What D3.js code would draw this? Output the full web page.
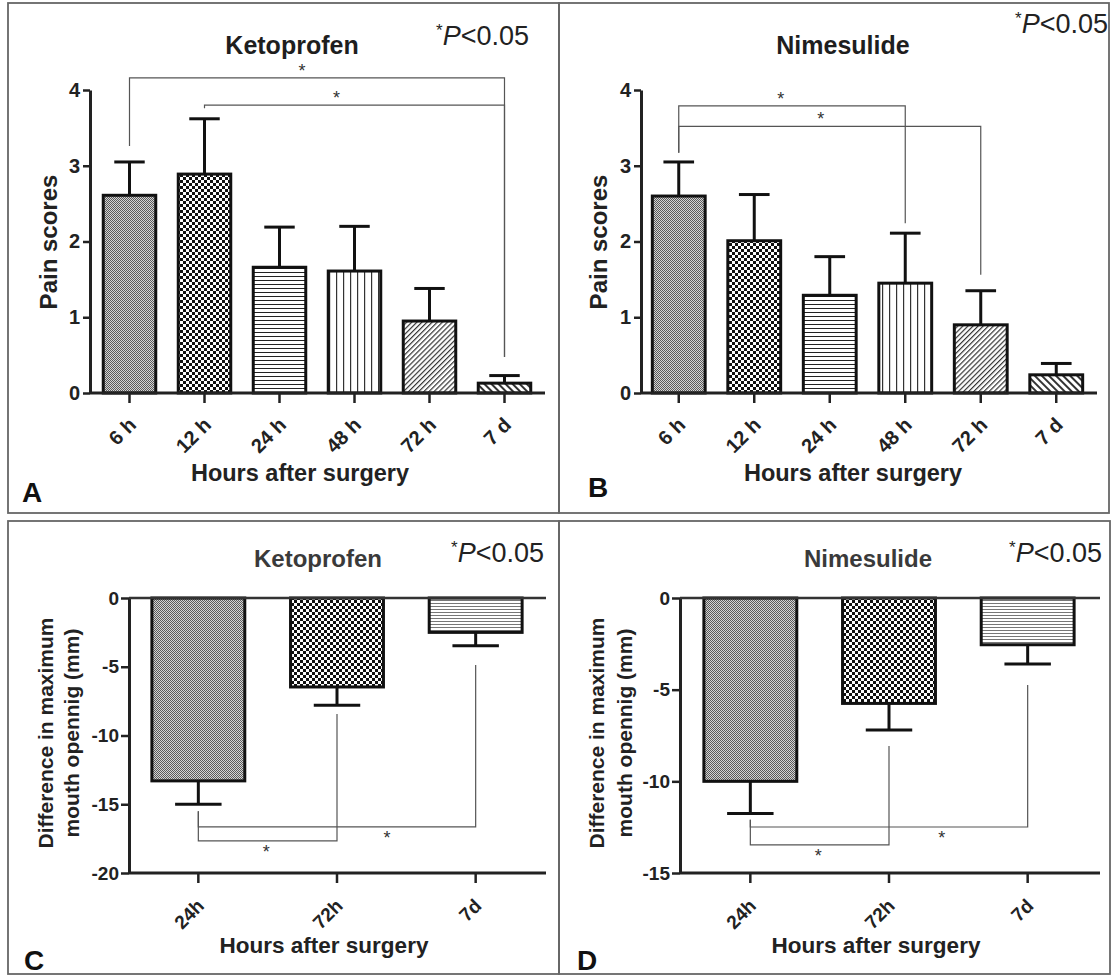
<!DOCTYPE html>
<html><head><meta charset="utf-8">
<script src="https://cdn.jsdelivr.net/npm/d3@7"></script>
<style>
html,body{margin:0;padding:0;background:#fff;}
svg{display:block;font-family:"Liberation Sans",Arial,Helvetica,sans-serif;}
</style></head><body>
<svg id="chart" width="1114" height="975"></svg>
<script>
// ---------------- data ----------------
const painCategories = ["6 h", "12 h", "24 h", "48 h", "72 h", "7 d"];
const painTicks = [0, 1, 2, 3, 4];
const ketoprofenPainMean = [2.61, 2.89, 1.66, 1.61, 0.95, 0.13];
const ketoprofenPainSD   = [0.44, 0.73, 0.53, 0.59, 0.43, 0.10];
const nimesulidePainMean = [2.60, 2.01, 1.29, 1.45, 0.90, 0.24];
const nimesulidePainSD   = [0.45, 0.61, 0.51, 0.66, 0.45, 0.15];

const mouthCategories = ["24h", "72h", "7d"];
const ketoprofenMouthTicks = [0, -5, -10, -15, -20];
const nimesulideMouthTicks = [0, -5, -10, -15];
const ketoprofenMouthMean = [-13.3, -6.47, -2.50];
const ketoprofenMouthSD   = [1.70, 1.33, 0.97];
const nimesulideMouthMean = [-10.0, -5.75, -2.55];
const nimesulideMouthSD   = [1.75, 1.45, 1.05];

// significance brackets: [from, to, bracket level, left leg end, right leg end, star position along bracket]
const ketoprofenPainBrackets = [
  ["6 h", "7 d", 4.16, 3.26, 0.475, 0.46],
  ["12 h", "7 d", 3.80, 3.76, 0.475, 0.44]
];
const nimesulidePainBrackets = [
  ["6 h", "48 h", 3.79, 3.17, 2.24, 0.45],
  ["6 h", "72 h", 3.52, 3.17, 1.56, 0.47]
];
const ketoprofenMouthBrackets = [
  ["24h", "72h", -17.67, -15.5, -8.44, 0.49],
  ["24h", "7d", -16.65, -15.5, -4.87, 0.68]
];
const nimesulideMouthBrackets = [
  ["24h", "72h", -13.47, -12.1, -8.07, 0.49],
  ["24h", "7d", -12.49, -12.1, -4.75, 0.69]
];

const painPatterns = ["fine", "coarse", "hlines", "vlines", "diag", "diag2"];
const mouthPatterns = ["fine", "coarse", "hlines2"];

// ---------------- patterns ----------------
const svg = d3.select("#chart");
svg.append("rect").attr("width", 1114).attr("height", 975).attr("fill", "#fff");
const defs = svg.append("defs");
function pattern(id, w, h, bg, draw, transform) {
  const p = defs.append("pattern").attr("id", id).attr("patternUnits", "userSpaceOnUse")
    .attr("width", w).attr("height", h);
  if (transform) p.attr("patternTransform", transform);
  p.append("rect").attr("width", w).attr("height", h).attr("fill", bg);
  draw(p);
}
pattern("fine", 2, 2, "#d4d4d4", p => {
  p.append("rect").attr("x", 0).attr("y", 0).attr("width", 1).attr("height", 1).attr("fill", "#5a5a5a");
  p.append("rect").attr("x", 1).attr("y", 1).attr("width", 1).attr("height", 1).attr("fill", "#5a5a5a");
});
pattern("coarse", 6, 6, "#fff", p => {
  p.append("rect").attr("x", 0).attr("y", 0).attr("width", 3).attr("height", 3).attr("fill", "#111");
  p.append("rect").attr("x", 3).attr("y", 3).attr("width", 3).attr("height", 3).attr("fill", "#111");
});
pattern("hlines", 8, 4, "#fff", p => {
  p.append("rect").attr("x", 0).attr("y", 0).attr("width", 8).attr("height", 1).attr("fill", "#222");
});
pattern("hlines2", 8, 3, "#fff", p => {
  p.append("rect").attr("x", 0).attr("y", 0).attr("width", 8).attr("height", 1).attr("fill", "#777");
});
pattern("vlines", 7, 8, "#fff", p => {
  p.append("rect").attr("x", 0).attr("y", 0).attr("width", 1.2).attr("height", 8).attr("fill", "#333");
});
pattern("diag", 3.6, 8, "#fff", p => {
  p.append("rect").attr("x", 0).attr("y", 0).attr("width", 1.2).attr("height", 8).attr("fill", "#333");
}, "rotate(45)");
pattern("diag2", 5, 8, "#fff", p => {
  p.append("rect").attr("x", 0).attr("y", 0).attr("width", 2).attr("height", 8).attr("fill", "#333");
}, "rotate(-45)");

// ---------------- panel drawing ----------------
function drawPanel(o) {
  const g = svg.append("g");
  g.append("rect").attr("x", o.box[0]).attr("y", o.box[1]).attr("width", o.box[2]).attr("height", o.box[3])
    .attr("fill", "none").attr("stroke", "#666").attr("stroke-width", 1.8);

  const x = d3.scaleBand().domain(o.cats).range(o.xRange).paddingInner(o.pad).paddingOuter(o.pad / 2);
  const y = d3.scaleLinear().domain(o.yDomain).range(o.yRange);
  const cx = c => x(c) + x.bandwidth() / 2;
  const rows = d3.zip(o.cats, o.means, o.sds, o.patterns);

  // significance brackets
  o.brackets.forEach(b => {
    const x1 = cx(b[0]), x2 = cx(b[1]);
    const p = d3.path();
    p.moveTo(x1, y(b[3])); p.lineTo(x1, y(b[2])); p.lineTo(x2, y(b[2])); p.lineTo(x2, y(b[4]));
    g.append("path").attr("d", p.toString()).attr("fill", "none").attr("stroke", "#555").attr("stroke-width", 1.2);
    g.append("text").attr("x", x1 + (x2 - x1) * b[5]).attr("y", y(b[2]) + o.starDy)
      .attr("text-anchor", "middle").attr("font-size", 18).attr("fill", "#333").text("*");
  });

  // bars
  g.selectAll("rect.bar").data(rows).join("rect").attr("class", "bar")
    .attr("x", d => x(d[0]))
    .attr("width", x.bandwidth())
    .attr("y", d => Math.min(y(0), y(d[1])))
    .attr("height", d => Math.abs(y(d[1]) - y(0)))
    .attr("fill", d => `url(#${d[3]})`)
    .attr("stroke", "#111").attr("stroke-width", 3);

  // error bars (one-sided, away from zero)
  const capW = x.bandwidth() * o.capFrac;
  rows.forEach(d => {
    const sign = d[1] >= 0 ? 1 : -1;
    const y1 = y(d[1]), y2 = y(d[1] + sign * d[2]);
    g.append("line").attr("x1", cx(d[0])).attr("x2", cx(d[0])).attr("y1", y1).attr("y2", y2)
      .attr("stroke", "#111").attr("stroke-width", 3);
    g.append("line").attr("x1", cx(d[0]) - capW / 2).attr("x2", cx(d[0]) + capW / 2).attr("y1", y2).attr("y2", y2)
      .attr("stroke", "#111").attr("stroke-width", 3);
  });

  // y axis
  const ya = g.append("g").attr("transform", `translate(${o.axisX},0)`)
    .call(d3.axisLeft(y).tickValues(o.ticks).tickSize(o.yTick).tickPadding(o.yPad).tickSizeOuter(0).tickFormat(d => String(d)));
  ya.select(".domain").attr("stroke", "#222").attr("stroke-width", 3);
  ya.selectAll(".tick line").attr("stroke", "#222").attr("stroke-width", 2.5);
  ya.selectAll(".tick text").attr("font-size", o.tickFont).attr("font-weight", "bold").attr("fill", "#222")
    .attr("font-family", '"Liberation Sans",Arial,sans-serif');

  // zero line (for negative panels) and category axis
  const axisY = y(o.yDomain[0] < 0 ? o.yDomain[0] : 0);
  if (o.yDomain[0] < 0) {
    g.append("line").attr("x1", o.axisX).attr("x2", o.xEnd).attr("y1", y(0)).attr("y2", y(0))
      .attr("stroke", "#333").attr("stroke-width", 2.5);
  }
  g.append("line").attr("x1", o.axisX).attr("x2", o.xEnd).attr("y1", axisY).attr("y2", axisY)
    .attr("stroke", "#222").attr("stroke-width", 3);
  const xa = g.append("g").attr("transform", `translate(0,${axisY})`)
    .call(d3.axisBottom(x).tickSize(o.xTick).tickSizeOuter(0));
  xa.select(".domain").remove();
  xa.selectAll(".tick line").attr("stroke", "#222").attr("stroke-width", 2.5);
  xa.selectAll(".tick text").attr("font-size", o.tickFont).attr("font-weight", "bold").attr("fill", "#222")
    .attr("font-family", '"Liberation Sans",Arial,sans-serif')
    .attr("x", null).attr("y", null).attr("dy", null)
    .attr("text-anchor", "end")
    .attr("transform", `translate(${o.labelDx},${o.labelDy}) rotate(-45)`);

  // titles
  g.append("text").attr("x", o.titleX).attr("y", o.titleY).attr("text-anchor", "middle")
    .attr("font-size", o.titleFont).attr("font-weight", "bold").attr("fill", o.titleColor).text(o.title);
  const pt = g.append("text").attr("x", o.pX).attr("y", o.pY).attr("text-anchor", o.pAnchor)
    .attr("font-size", 27).attr("fill", "#222");
  pt.append("tspan").attr("font-size", 17).attr("dy", -9).text("*");
  pt.append("tspan").attr("font-style", "italic").attr("dy", 9).text("P");
  pt.append("tspan").text("<0.05");

  // axis titles
  o.yTitle.forEach((t, i) => {
    g.append("text").attr("transform", `translate(${o.yTitleX[i]},${o.yTitleY}) rotate(-90)`)
      .attr("text-anchor", "middle").attr("font-size", o.yTitleFont).attr("font-weight", "bold")
      .attr("fill", "#222").text(t);
  });
  g.append("text").attr("x", o.xTitleX).attr("y", o.xTitleY).attr("text-anchor", "middle")
    .attr("font-size", o.xTitleFont).attr("font-weight", "bold").attr("fill", "#222").text("Hours after surgery");
  g.append("text").attr("x", o.letterX).attr("y", o.letterY).attr("font-size", 28).attr("font-weight", "bold")
    .attr("fill", "#111").text(o.letter);
}

const painCommon = {
  cats: painCategories, ticks: painTicks, yDomain: [0, 4], yRange: [393, 90], pad: 0.3, capFrac: 0.58,
  yTick: 7, yPad: 3, xTick: 10, tickFont: 20, labelDx: 8, labelDy: 33, starDy: -1,
  titleFont: 25, titleColor: "#1e1e1e", titleY: 54, yTitle: ["Pain scores"], yTitleFont: 24,
  xTitleFont: 23.5, xTitleY: 481
};
const mouthCommon = {
  cats: mouthCategories, yRange: [873, 598], pad: 0.33, capFrac: 0.5,
  yTick: 8, yPad: 2, xTick: 10, tickFont: 19, labelDx: 7, labelDy: 34, starDy: 17,
  titleFont: 24, titleColor: "#3a3a3a", titleY: 567, yTitle: ["Difference in maximum", "mouth opennig (mm)"],
  yTitleFont: 21, yTitleY: 733, xTitleFont: 22.5, xTitleY: 953
};

drawPanel(Object.assign({}, painCommon, {
  box: [8, 3, 551, 510], means: ketoprofenPainMean, sds: ketoprofenPainSD, patterns: painPatterns,
  brackets: ketoprofenPainBrackets, axisX: 90, xRange: [92, 542], xEnd: 545,
  title: "Ketoprofen", titleX: 292, pX: 436, pY: 45, pAnchor: "start",
  yTitleX: [57], yTitleY: 242, xTitleX: 300, letter: "A", letterX: 22, letterY: 502
}));
drawPanel(Object.assign({}, painCommon, {
  box: [559, 3, 550, 510], means: nimesulidePainMean, sds: nimesulidePainSD, patterns: painPatterns,
  brackets: nimesulidePainBrackets, axisX: 641, xRange: [641, 1094], xEnd: 1097,
  title: "Nimesulide", titleX: 843, pX: 1108, pY: 33, pAnchor: "end",
  yTitleX: [607], yTitleY: 242, xTitleX: 853, letter: "B", letterX: 588, letterY: 497
}));
drawPanel(Object.assign({}, mouthCommon, {
  box: [8, 521, 551, 453], means: ketoprofenMouthMean, sds: ketoprofenMouthSD, patterns: mouthPatterns,
  ticks: ketoprofenMouthTicks, yDomain: [-20, 0],
  brackets: ketoprofenMouthBrackets, axisX: 129, xRange: [129, 545], xEnd: 546,
  title: "Ketoprofen", titleX: 318, pX: 451, pY: 562, pAnchor: "start",
  yTitleX: [53, 79], xTitleX: 324, letter: "C", letterX: 24, letterY: 970
}));
drawPanel(Object.assign({}, mouthCommon, {
  box: [559, 521, 551, 453], means: nimesulideMouthMean, sds: nimesulideMouthSD, patterns: mouthPatterns,
  ticks: nimesulideMouthTicks, yDomain: [-15, 0],
  brackets: nimesulideMouthBrackets, axisX: 680, xRange: [681, 1097], xEnd: 1100,
  title: "Nimesulide", titleX: 868, pX: 1009, pY: 562, pAnchor: "start",
  yTitleX: [604, 632], xTitleX: 876, letter: "D", letterX: 577, letterY: 970
}));
</script>
</body></html>
